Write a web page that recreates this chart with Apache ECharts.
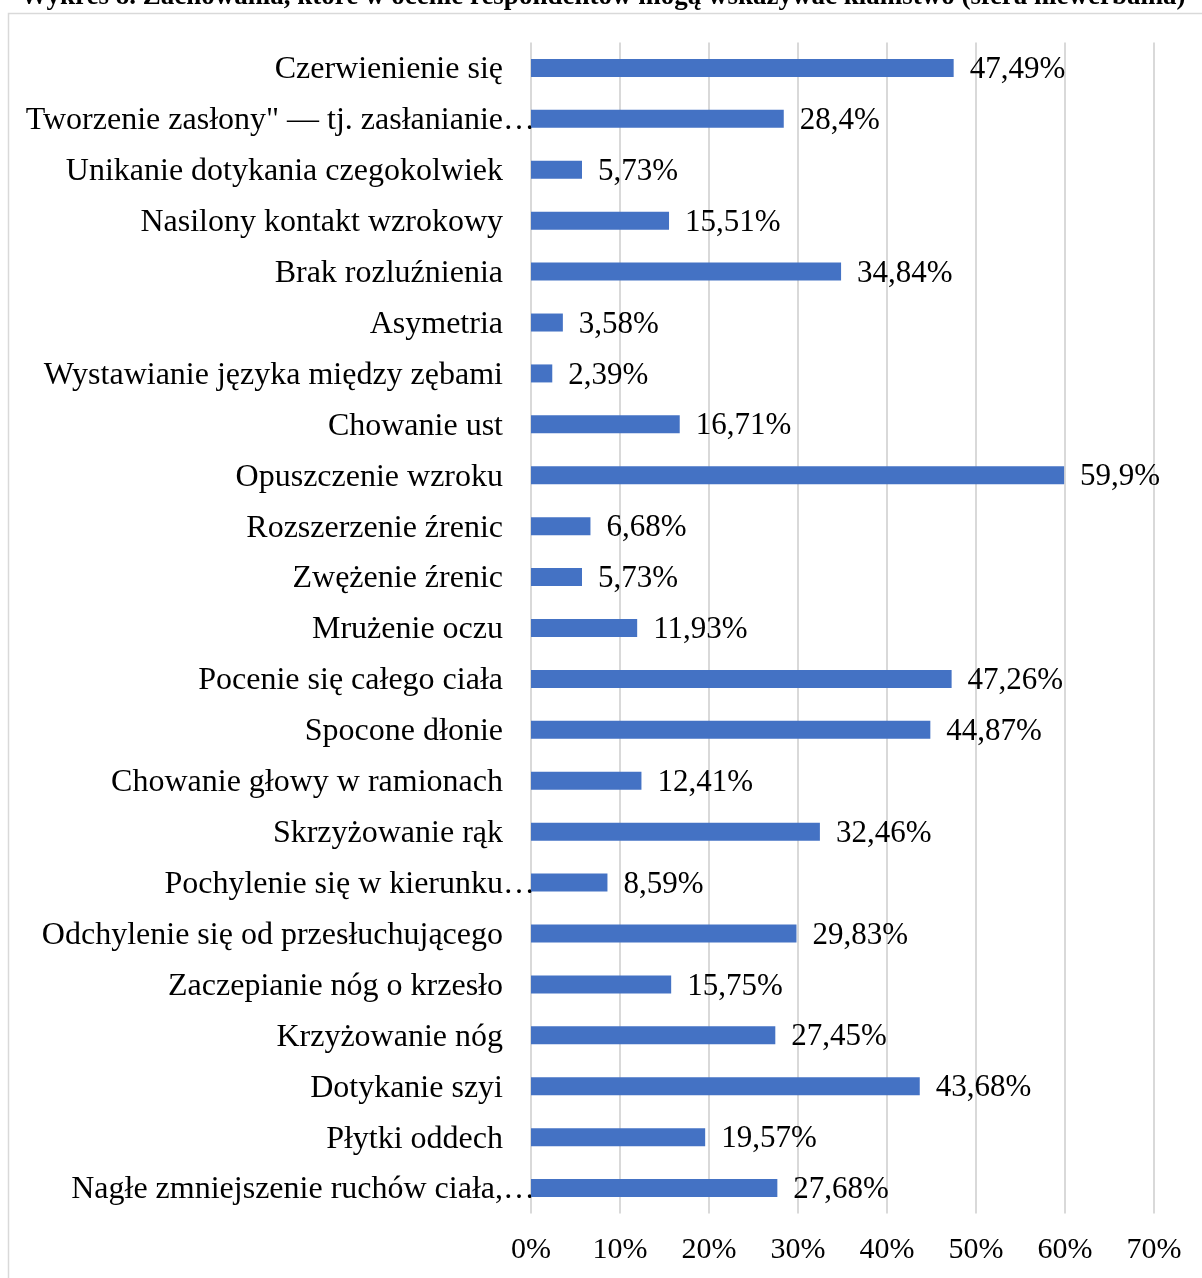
<!DOCTYPE html>
<html>
<head>
<meta charset="utf-8">
<style>
  html, body { margin: 0; padding: 0; background: #ffffff; }
  #chart { width: 1202px; height: 1278px; }
</style>
<script src="https://cdn.jsdelivr.net/npm/echarts@6/dist/echarts.min.js"></script>
</head>
<body>
<div id="chart"></div>
<script>
// Behaviours that respondents consider signs of lying (non-verbal), share in %
const categories = [
  'Czerwienienie się',
  'Tworzenie zasłony" — tj. zasłanianie…',
  'Unikanie dotykania czegokolwiek',
  'Nasilony kontakt wzrokowy',
  'Brak rozluźnienia',
  'Asymetria',
  'Wystawianie języka między zębami',
  'Chowanie ust',
  'Opuszczenie wzroku',
  'Rozszerzenie źrenic',
  'Zwężenie źrenic',
  'Mrużenie oczu',
  'Pocenie się całego ciała',
  'Spocone dłonie',
  'Chowanie głowy w ramionach',
  'Skrzyżowanie rąk',
  'Pochylenie się w kierunku…',
  'Odchylenie się od przesłuchującego',
  'Zaczepianie nóg o krzesło',
  'Krzyżowanie nóg',
  'Dotykanie szyi',
  'Płytki oddech',
  'Nagłe zmniejszenie ruchów ciała,…'
];
const values = [
  47.49, 28.4, 5.73, 15.51, 34.84, 3.58, 2.39, 16.71, 59.9, 6.68, 5.73, 11.93,
  47.26, 44.87, 12.41, 32.46, 8.59, 29.83, 15.75, 27.45, 43.68, 19.57, 27.68
];
const xTicks = [0, 10, 20, 30, 40, 50, 60, 70];

const titleText = 'Wykres 8. Zachowania, które w ocenie respondentów mogą wskazywać kłamstwo (sfera niewerbalna)';
const serif = '"Liberation Serif", "Times New Roman", serif';

const pct = v => String(v).replace('.', ',') + '%';

const chart = echarts.init(document.getElementById('chart'), null, { renderer: 'canvas' });
chart.setOption({
  backgroundColor: '#ffffff',
  animation: false,
  graphic: [
    {
      type: 'rect',
      shape: { x: 8.5, y: 13.5, width: 1400, height: 1400 },
      style: { fill: 'none', stroke: '#d9d9d9', lineWidth: 1.5 },
      silent: true
    },
    {
      type: 'text',
      x: 603, y: -3,
      style: {
        text: titleText,
        font: 'bold 27px ' + serif,
        fill: '#000000',
        align: 'center',
        verticalAlign: 'middle'
      },
      silent: true
    }
  ],
  grid: { left: 531, right: 48, top: 42.5, bottom: 64.5, containLabel: false },
  xAxis: {
    type: 'value',
    min: xTicks[0],
    max: xTicks[xTicks.length - 1],
    interval: 10,
    axisLine: { show: false },
    axisTick: { show: false },
    splitLine: { show: true, lineStyle: { color: '#d9d9d9', width: 2 } },
    axisLabel: {
      margin: 22,
      fontFamily: serif,
      fontSize: 30,
      color: '#000000',
      formatter: v => v + '%'
    }
  },
  yAxis: {
    type: 'category',
    inverse: true,
    data: categories,
    axisLine: { show: false },
    axisTick: { show: false },
    axisLabel: {
      margin: -4,
      fontFamily: serif,
      fontSize: 32,
      color: '#000000',
      // truncated names run right up to the axis, full names keep a gap
      formatter: s => (s.endsWith('…') ? '{cut|' + s + '}' : '{full|' + s + '}'),
      rich: {
        full: { fontFamily: serif, fontSize: 32, color: '#000000', padding: [4, 32, 0, 0] },
        cut: { fontFamily: serif, fontSize: 32, color: '#000000', padding: [4, 0, 0, 0] }
      }
    }
  },
  series: [{
    type: 'bar',
    data: values,
    barWidth: 18,
    itemStyle: { color: '#4472c4' },
    label: {
      show: true,
      position: 'right',
      distance: 16,
      offset: [0, 2],
      fontFamily: serif,
      fontSize: 31,
      color: '#000000',
      formatter: p => pct(p.value)
    }
  }]
});
</script>
</body>
</html>
